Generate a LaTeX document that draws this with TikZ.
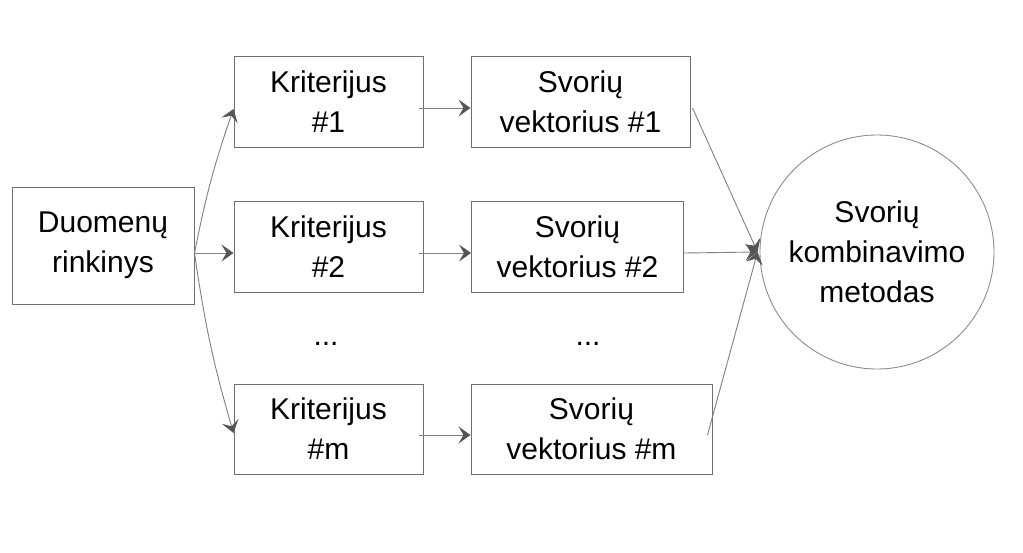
\documentclass[tikz,border=0pt]{standalone}
\usepackage{fontspec}
\setmainfont{Liberation Sans}
\usetikzlibrary{arrows.meta}
\definecolor{boxline}{HTML}{707070}
\definecolor{arrline}{HTML}{808080}
\definecolor{tipcol}{HTML}{555555}
\definecolor{circline}{HTML}{8C8C8C}
\tikzset{
  box/.style={draw=boxline, line width=1pt, rectangle, align=center, inner sep=0pt,
    font=\fontsize{30}{40}\selectfont},
  circ/.style={draw=circline, line width=0.9pt, circle, align=center, inner sep=0pt,
    minimum size=234pt, font=\fontsize{30}{40}\selectfont},
  dots/.style={font=\fontsize{30}{40}\selectfont, inner sep=0pt, anchor=base},
  arr/.style={draw=arrline, line width=0.9pt,
    -{Stealth[length=12pt,width=17pt,inset=5pt,color=tipcol]}}
}
\begin{document}
\begin{tikzpicture}[x=1pt,y=-1pt]
\useasboundingbox (0,0) rectangle (1023,552);
\node[box, minimum width=182pt, minimum height=117pt] (D) at (103,245.5) {Duomenų\\rinkinys};
\node[box, minimum width=189pt, minimum height=91pt] (K1) at (328.5,101.5) {Kriterijus\\\#1};
\node[box, minimum width=189pt, minimum height=91pt] (K2) at (328.5,246.5) {Kriterijus\\\#2};
\node[box, minimum width=189pt, minimum height=90pt] (Km) at (328.5,429) {Kriterijus\\\#m};
\node[box, minimum width=219pt, minimum height=91pt] (S1) at (580.5,101.5) {Svorių\\vektorius \#1};
\node[box, minimum width=212pt, minimum height=91pt] (S2) at (577.5,246.5) {Svorių\\vektorius \#2};
\node[box, minimum width=241pt, minimum height=90pt] (Sm) at (591.5,429) {Svorių\\vektorius \#m};
\node[circ] (C) at (877,252) {Svorių\\kombinavimo\\metodas};
\node[dots] (d1) at (326,345) {...};
\node[dots] (d2) at (588,345) {...};
\coordinate (Dout) at ([yshift=-7.5pt]D.east);
\draw[arr] (Dout) to[bend left=4] ([yshift=-7.5pt]K1.west);
\draw[arr] (Dout) -- ([yshift=-6.5pt]K2.west);
\draw[arr] (Dout) to[bend right=4] ([yshift=-4pt]Km.west);
\draw[arr] ([xshift=-5pt,yshift=-6.5pt]K1.east) -- ([yshift=-6.5pt]S1.west);
\draw[arr] ([xshift=-5pt,yshift=-6.5pt]K2.east) -- ([yshift=-6.5pt]S2.west);
\draw[arr] ([xshift=-5pt,yshift=-6pt]Km.east) -- ([yshift=-6pt]Sm.west);
\draw[arr] ([xshift=2pt,yshift=-6.5pt]S1.east) -- ([xshift=-2pt]C.west);
\draw[arr] ([yshift=-6.5pt]S2.east) -- ([xshift=-2pt]C.west);
\draw[arr] ([xshift=-5pt,yshift=-6pt]Sm.east) -- ([xshift=-2pt]C.west);
\end{tikzpicture}
\end{document}
